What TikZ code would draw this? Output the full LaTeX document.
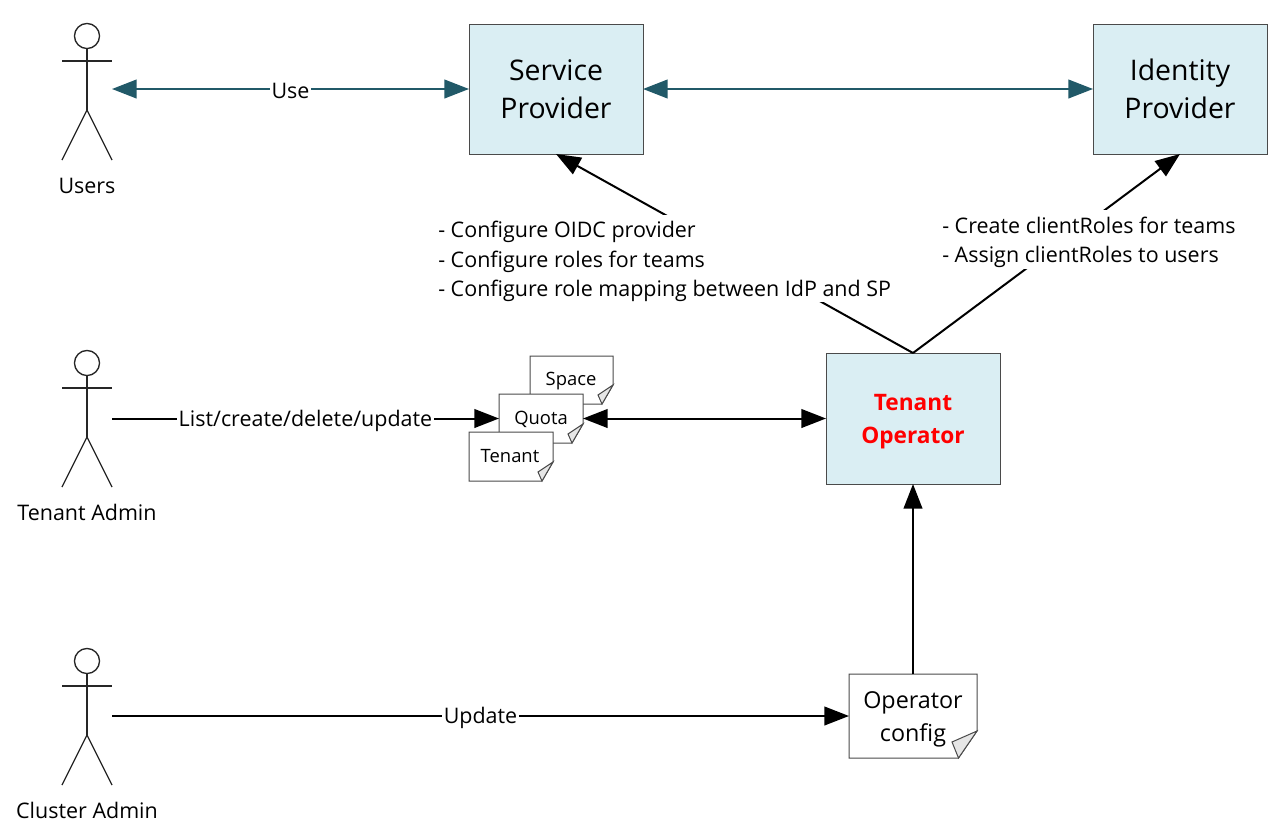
\documentclass[tikz,border=0pt]{standalone}
\usepackage{fontspec}
\setmainfont{Open Sans}
\usetikzlibrary{arrows.meta}
\definecolor{boxfill}{HTML}{DAEEF3}
\definecolor{boxline}{HTML}{4A4A4A}
\definecolor{teal}{HTML}{215968}
\definecolor{foldfill}{HTML}{E6E6E6}
\tikzset{
  x=0.75pt,y=-0.75pt,
  bigbox/.style={draw=boxline,fill=boxfill,line width=0.75pt,outer sep=0pt,inner sep=0pt,align=center,font=\fontsize{21.3}{28.5}\selectfont},
  hole/.style={inner sep=0pt,outer sep=0pt},
  actorline/.style={draw=black!85,line width=1pt},
  lbl/.style={font=\fontsize{16.1}{20}\selectfont},
  edgelbl/.style={lbl,fill=white,inner sep=1pt,yshift=-1.6pt},
  notes/.style={align=left,inner sep=0pt,font=\fontsize{16.1}{22.1}\selectfont},
  tealarrow/.style={draw=teal,line width=1.5pt,{Triangle[length=18.5pt,width=14pt]}-{Triangle[length=18.5pt,width=14pt]},color=teal},
  blackarrow/.style={draw=black,line width=1.5pt,-{Triangle[length=18.5pt,width=14pt]}},
  blackboth/.style={draw=black,line width=1.5pt,{Triangle[length=18.5pt,width=14pt]}-{Triangle[length=18.5pt,width=14pt]}},
  docline/.style={draw=boxline,line width=0.75pt},
  foldline/.style={draw=boxline,line width=0.75pt,fill=foldfill},
  smalltext/.style={font=\fontsize{13.8}{15}\selectfont,hole}
}
% \actor{name}{centre x}{top y}{label}
\newcommand{\actor}[4]{%
  \node[hole,minimum width=37.5pt,minimum height=102.75pt] (#1) at (#2,#3+68.5) {};
  \begin{scope}[shift={(#2,#3)}]
    \draw[actorline] (0,13) circle[radius=9.4pt];
    \draw[actorline] (0,26) -- (0,87);
    \draw[actorline] (-25,38) -- (25,38);
    \draw[actorline] (-25,137) -- (0,87) -- (25,137);
  \end{scope}
  \node[lbl] (#1label) at (#2,#3+162.5) {#4};
}
% \doc{name}{x0}{y0}{x1}{y1}{cut dy}{bottom dx}{inner dx}{inner dy}
\newcommand{\doc}[9]{%
  \filldraw[docline,fill=white] (#2,#3) -- (#4,#3) -- (#4,#5-#6) -- (#4-#7,#5) -- (#2,#5) -- cycle;
  \draw[foldline] (#4,#5-#6) -- (#4-#7,#5) -- (#4-#8,#5-#9) -- cycle;
  \node[hole,minimum width={(#4-#2)*0.75pt},minimum height={(#5-#3)*0.75pt}] (#1) at ({(#2+#4)/2},{(#3+#5)/2}) {};
}
\begin{document}
\begin{tikzpicture}
\useasboundingbox (0,0) rectangle (1283,839);
\fill[white] (0,0) rectangle (1283,839);

\actor{users}{87}{23}{Users}
\actor{tadmin}{87}{350}{Tenant Admin}
\actor{cadmin}{87}{648}{Cluster Admin}

\node[bigbox,minimum width=130.5pt,minimum height=97.5pt] (sp) at (556,89) {Service\\Provider};
\node[bigbox,minimum width=130.5pt,minimum height=97.5pt] (idp) at (1180,89) {Identity\\Provider};
\node[bigbox,minimum width=130.5pt,minimum height=98.25pt] (to) at (913,418.5) {};
\node[hole,align=center,text=red,font=\fontsize{17}{24.8}\selectfont\bfseries] (totext) at (913,421.5) {Tenant\\Operator};

\doc{space}{530}{356}{613}{404}{19}{11}{15}{9}
\node[smalltext] (spacetext) at (571,381.5) {Space};
\doc{quota}{499}{394}{583}{443}{19}{11}{15}{9}
\node[smalltext] (quotatext) at (541,419.5) {Quota};
\doc{tenant}{469}{432}{553}{481}{19}{11}{15}{9}
\node[smalltext] (tenanttext) at (510,456.5) {Tenant};
\doc{config}{849}{674}{977}{758}{27}{18.5}{25}{16}
\node[font=\fontsize{17.5}{24.8}\selectfont,hole,align=center] (configtext) at (913,719) {Operator\\config};

\draw[tealarrow] (users.east |- sp.west) -- node[edgelbl,text=black] (uselbl) {Use} (sp.west);
\draw[tealarrow] (sp.east) -- (idp.west);

\draw[blackarrow] (to.north) -- (sp.south);
\draw[blackarrow] (to.north) -- (idp.south);

\draw[blackarrow] (tadmin.east |- quota.west) -- node[edgelbl] (listlbl) {List/create/delete/update} (quota.west);
\draw[blackboth] (quota.east) -- (quota.east -| to.west);
\draw[blackarrow] (cadmin.east |- config.west) -- node[edgelbl] (updlbl) {Update} (config.west);
\draw[blackarrow] (config.north) -- (to.south);

\fill[white] (438,215) rectangle (895,302);
\fill[white] (942,210) rectangle (1235,269);
\node[notes,anchor=west] (spnotes) at (438,261.5) {- Configure OIDC provider\\- Configure roles for teams\\- Configure role mapping between IdP and SP};
\node[notes,anchor=west] (idpnotes) at (942,242.5) {- Create clientRoles for teams\\- Assign clientRoles to users};
\end{tikzpicture}
\end{document}
